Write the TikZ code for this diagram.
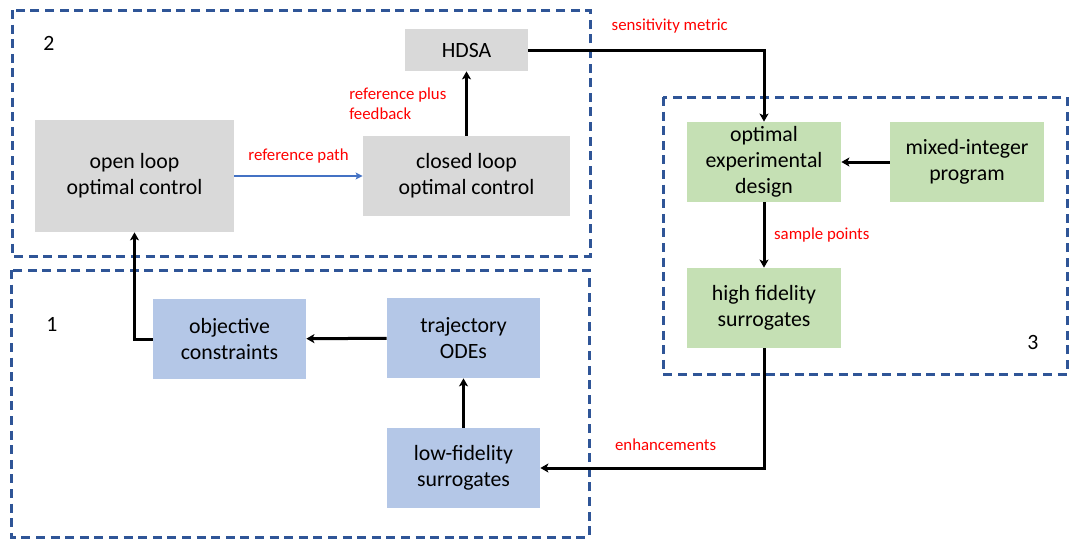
\documentclass[tikz,border=0pt]{standalone}
\usepackage{fontspec}
\setmainfont{Carlito}
\usetikzlibrary{arrows.meta,positioning}
\definecolor{cCtrl}{HTML}{D9D9D9}
\definecolor{cSurr}{HTML}{B4C7E7}
\definecolor{cDoe}{HTML}{C5E0B4}
\definecolor{cGrp}{HTML}{2F5597}
\definecolor{cLink}{HTML}{4472C4}
\definecolor{cNote}{HTML}{FF0000}
\tikzset{
  blk/.style={align=center, inner sep=1pt, font=\fontsize{10.9}{13}\selectfont},
  ctrl/.style={blk, fill=cCtrl},
  surr/.style={blk, fill=cSurr, minimum width=76.5pt, minimum height=40pt},
  doe/.style={blk, fill=cDoe, minimum width=77pt, minimum height=40pt},
  grp/.style={draw=cGrp, line width=1.5pt, dash pattern=on 4.5pt off 2.8pt},
  tag/.style={font=\fontsize{10.9}{13}\selectfont},
  note/.style={text=cNote, font=\fontsize{8.4}{10}\selectfont, align=left},
  flow/.style={-{Stealth[length=4pt,width=4.5pt,inset=1pt]}, line width=1.5pt},
  reflink/.style={-{Stealth[length=3.5pt,width=3.5pt,inset=0.8pt]}, draw=cLink, line width=0.8pt},
}

\begin{document}
\begin{tikzpicture}[x=0.5pt, y=-0.5pt]
    \useasboundingbox (0,0) rectangle (1078,542);
    % --- dashed groups ---
    \draw[grp] (12,10) rectangle (590,256);
    \draw[grp] (11,270) rectangle (589,537);
    \draw[grp] (663,97) rectangle (1067,374);
    \node[tag] (n2) at (49,43) {2};
    \node[tag] (n1) at (52,324) {1};
    \node[tag] (n3) at (1033,342) {3};
    % --- group 2: control ---
    \node[ctrl, minimum width=99.5pt, minimum height=56pt] (open) at (134.5,176) {open loop\\optimal control};
    \node[ctrl, minimum width=103.5pt, minimum height=40pt] (closed) at (466.5,176) {closed loop\\optimal control};
    \node[ctrl, minimum width=61.5pt, minimum height=21pt] (hdsa) at (466.5,50) {HDSA};
    % --- group 3: design ---
    \node[doe] (oed) at (764,162) {optimal\\experimental\\design};
    \node[doe] (mip) at (967,162) {mixed-integer\\program};
    \node[doe] (hifi) at (764,308) {high fidelity\\surrogates};
    % --- group 1: surrogates ---
    \node[surr] (obj) at (229.5,339) {objective\\constraints};
    \node[surr] (traj) at (463.5,338) {trajectory\\ODEs};
    \node[surr] (lofi) at (463.5,468) {low-fidelity\\surrogates};
    % --- connectors ---
    \draw[reflink] (open) -- node[note, above=2.5pt]{reference path} (closed);
    \draw[flow] (closed) -- node[note, left=6pt]{reference plus\\feedback} (hdsa);
    \draw[flow] (hdsa.east) -| node[note, above=4.5pt, pos=0.3]{sensitivity metric} (oed.north);
    \draw[flow] (mip) -- (oed);
    \draw[flow] (oed) -- node[note, right=1pt]{sample points} (hifi);
    \draw[flow] (hifi.south) |- node[note, above=4.5pt, pos=0.72]{enhancements} (lofi.east);
    \draw[flow] (lofi) -- (traj);
    \draw[flow] (traj) -- (obj);
    \draw[flow] (obj.west) -| (open.south);
  \end{tikzpicture}
\end{document}
